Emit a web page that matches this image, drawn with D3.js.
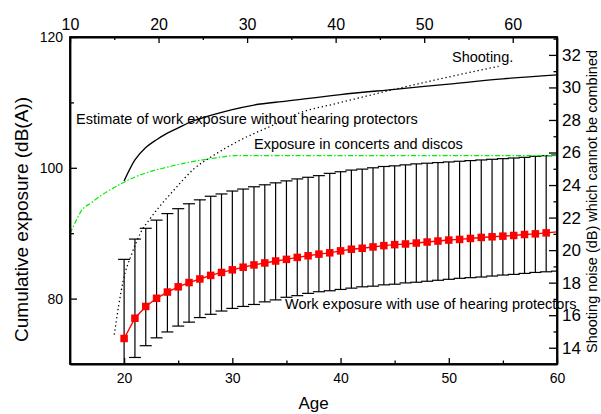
<!DOCTYPE html>
<html>
<head>
<meta charset="utf-8">
<script src="https://cdn.jsdelivr.net/npm/d3@7/dist/d3.min.js"></script>
<style>
  html, body { margin: 0; padding: 0; background: #fff; }
  svg { display: block; font-family: "Liberation Sans", Arial, sans-serif; }
</style>
</head>
<body>
<svg id="chart" width="601" height="414"></svg>
<script>
// Work exposure with hearing protectors: mean and spread per age
const ages = [20,21,22,23,24,25,26,27,28,29,30,31,32,33,34,35,36,37,38,39,40,
              41,42,43,44,45,46,47,48,49,50,51,52,53,54,55,56,57,58,59,60];
const protectedMean = [73.9,77.0,78.8,80.05,81.0,81.8,82.45,83.0,83.55,84.0,84.4,
              84.8,85.15,85.45,85.75,86.0,86.3,86.55,86.8,87.0,87.3,
              87.55,87.7,87.9,88.1,88.25,88.35,88.5,88.65,88.8,88.95,
              89.05,89.2,89.35,89.45,89.55,89.65,89.8,89.9,90.05,90.2];
const protectedUpper = [86.0,89.1,90.75,92.0,93.0,93.75,94.5,95.1,95.65,96.0,96.45,
              96.75,97.1,97.4,97.7,98.0,98.3,98.55,98.8,99.15,99.4,
              99.65,99.8,100.0,100.2,100.3,100.45,100.6,100.7,100.8,100.9,
              101.0,101.1,101.2,101.3,101.4,101.5,101.6,101.75,101.85,101.95];
const protectedLower = [68.0,71.0,72.8,74.0,74.9,75.8,76.4,77.1,77.6,78.1,78.5,
              78.8,79.1,79.5,79.8,80.2,80.45,80.8,81.05,81.2,81.4,
              81.6,81.8,81.9,82.1,82.2,82.4,82.5,82.65,82.8,82.95,
              83.1,83.2,83.3,83.45,83.6,83.7,83.85,84.0,84.1,84.2];

// Estimated work exposure without hearing protectors
const unprotectedAge = [20,21,22,23,24,25,26,28,30,32,35,40,45,50,55,60];
const unprotectedVal = [98.0,101.2,103.1,104.3,105.3,106.1,106.9,108.0,108.9,109.6,110.2,111.2,112.0,112.8,113.6,114.2];

// Exposure in concerts and discos
const concertAge = [15,15.5,16,17,18,19,20,21,22,23,24,25,26,27,28,29,30,40,50,60];
const concertVal = [90.0,91.7,93.3,94.7,95.9,96.9,97.8,98.6,99.2,99.7,100.1,100.5,100.85,101.15,101.4,101.65,101.85,101.85,101.85,101.85];

// Shooting noise (top and right scales)
const shootX = [15,15.5,16,17,18,19,20,22,24,26,29,33,36,40,46,52,58.4];
const shootY = [14.8,16.6,18.1,19.8,21.1,21.9,22.6,23.85,25.0,25.75,26.7,27.7,28.45,29.0,29.8,30.55,31.3];

// Tick values
const bottomTicks = [20,30,40,50,60];
const bottomMinor = [25,35,45,55];
const topTicks = [10,20,30,40,50,60];
const topMinor = [15,25,35,45,55];
const leftTicks = [80,100,120];
const leftMinor = [90,110];
const rightTicks = [14,16,18,20,22,24,26,28,30,32];
const rightMinor = [15,17,19,21,23,25,27,29,31,33];

const svg = d3.select("#chart");
const L = 70, R = 557, T = 37, B = 364;

const x = d3.scaleLinear().domain([15, 60]).range([L, R]);
const xTop = d3.scaleLinear().domain([10, 65]).range([L, R]);
const y = d3.scaleLinear().domain([70, 120]).range([B, T]);
const yR = d3.scaleLinear().domain([13, 33.1]).range([B, T]);

svg.append("defs").append("clipPath").attr("id", "plotClip")
  .append("rect").attr("x", L).attr("y", T).attr("width", R - L).attr("height", B - T);

const plot = svg.append("g").attr("clip-path", "url(#plotClip)");

const rows = ages.map((a, i) => ({age: a, mean: protectedMean[i], hi: protectedUpper[i], lo: protectedLower[i]}));

// Error bars
const bars = plot.append("g").attr("stroke", "#000").attr("stroke-width", 1.2);
bars.selectAll("line.v").data(rows).join("line").attr("class", "v")
  .attr("x1", d => x(d.age)).attr("x2", d => x(d.age))
  .attr("y1", d => y(d.hi)).attr("y2", d => y(d.lo));
bars.selectAll("line.hi").data(rows).join("line").attr("class", "hi")
  .attr("x1", d => x(d.age) - 6).attr("x2", d => x(d.age) + 6)
  .attr("y1", d => y(d.hi)).attr("y2", d => y(d.hi));
bars.selectAll("line.lo").data(rows).join("line").attr("class", "lo")
  .attr("x1", d => x(d.age) - 6).attr("x2", d => x(d.age) + 6)
  .attr("y1", d => y(d.lo)).attr("y2", d => y(d.lo));

// Mean line with square markers
plot.append("path").datum(rows)
  .attr("fill", "none").attr("stroke", "#ff0000").attr("stroke-width", 1.4)
  .attr("d", d3.line().x(d => x(d.age)).y(d => y(d.mean)));
const sq = 7.5;
plot.append("g").selectAll("rect").data(rows.filter(d => d.age < 60)).join("rect")
  .attr("x", d => x(d.age) - sq / 2).attr("y", d => y(d.mean) - sq / 2)
  .attr("width", sq).attr("height", sq).attr("fill", "#ff0000");

// Unprotected estimate
plot.append("path").datum(unprotectedAge.map((a, i) => [a, unprotectedVal[i]]))
  .attr("fill", "none").attr("stroke", "#000").attr("stroke-width", 1.3)
  .attr("d", d3.line().curve(d3.curveMonotoneX).x(d => x(d[0])).y(d => y(d[1])));

// Concerts and discos
plot.append("path").datum(concertAge.map((a, i) => [a, concertVal[i]]))
  .attr("fill", "none").attr("stroke", "#00ee00").attr("stroke-width", 1.2)
  .attr("stroke-dasharray", "5,2,1.5,2")
  .attr("d", d3.line().curve(d3.curveMonotoneX).x(d => x(d[0])).y(d => y(d[1])));

// Shooting
plot.append("path").datum(shootX.map((a, i) => [a, shootY[i]]))
  .attr("fill", "none").attr("stroke", "#000").attr("stroke-width", 1.3)
  .attr("stroke-dasharray", "1.3,2.8")
  .attr("d", d3.line().curve(d3.curveMonotoneX).x(d => xTop(d[0])).y(d => yR(d[1])));

// Axes
function styleAxis(g, size) {
  g.selectAll(".domain").attr("stroke", "#000").attr("stroke-width", 1.8);
  g.selectAll(".tick line").attr("stroke", "#000").attr("stroke-width", 1.3);
  g.selectAll("text").attr("fill", "#000").attr("font-size", size)
    .attr("font-family", "'Liberation Sans', Arial, sans-serif");
}

const gB = svg.append("g").attr("transform", `translate(0,${B})`)
  .call(d3.axisBottom(x).tickValues(bottomTicks).tickFormat(d3.format("d")).tickSizeInner(-6).tickSizeOuter(0).tickPadding(9));
styleAxis(gB, 14);
svg.append("g").attr("transform", `translate(0,${B})`)
  .call(d3.axisBottom(x).tickValues(bottomMinor).tickFormat("").tickSizeInner(-3.5).tickSizeOuter(0))
  .call(g => { g.select(".domain").remove(); g.selectAll("line").attr("stroke", "#000").attr("stroke-width", 1.3); });

const gT = svg.append("g").attr("transform", `translate(0,${T})`)
  .call(d3.axisTop(xTop).tickValues(topTicks).tickFormat(d3.format("d")).tickSizeInner(-6).tickSizeOuter(0).tickPadding(7));
styleAxis(gT, 16);
svg.append("g").attr("transform", `translate(0,${T})`)
  .call(d3.axisTop(xTop).tickValues(topMinor).tickFormat("").tickSizeInner(-3).tickSizeOuter(0))
  .call(g => { g.select(".domain").remove(); g.selectAll("line").attr("stroke", "#000").attr("stroke-width", 1.3); });

const gL = svg.append("g").attr("transform", `translate(${L},0)`)
  .call(d3.axisLeft(y).tickValues(leftTicks).tickFormat(d3.format("d")).tickSizeInner(-7).tickSizeOuter(0).tickPadding(7));
styleAxis(gL, 14);
svg.append("g").attr("transform", `translate(${L},0)`)
  .call(d3.axisLeft(y).tickValues(leftMinor).tickFormat("").tickSizeInner(-4).tickSizeOuter(0))
  .call(g => { g.select(".domain").remove(); g.selectAll("line").attr("stroke", "#000").attr("stroke-width", 1.3); });

const gR = svg.append("g").attr("transform", `translate(${R},0)`)
  .call(d3.axisRight(yR).tickValues(rightTicks).tickFormat(d3.format("d")).tickSizeInner(-8).tickSizeOuter(0).tickPadding(5));
styleAxis(gR, 17);
svg.append("g").attr("transform", `translate(${R},0)`)
  .call(d3.axisRight(yR).tickValues(rightMinor).tickFormat("").tickSizeInner(-3.5).tickSizeOuter(0))
  .call(g => { g.select(".domain").remove(); g.selectAll("line").attr("stroke", "#000").attr("stroke-width", 1.3); });

// Full frame lines
svg.append("rect").attr("x", L).attr("y", T).attr("width", R - L).attr("height", B - T)
  .attr("fill", "none").attr("stroke", "#000").attr("stroke-width", 1.8);

// Axis titles
svg.append("text").attr("transform", `translate(28,${(T + B) / 2 + 19}) rotate(-90)`)
  .attr("text-anchor", "middle").attr("font-size", 19).text("Cumulative exposure (dB(A))");
svg.append("text").attr("x", (L + R) / 2).attr("y", 409)
  .attr("text-anchor", "middle").attr("font-size", 17).text("Age");
svg.append("text").attr("transform", `translate(597,${(T + B) / 2 + 1}) rotate(-90)`)
  .attr("text-anchor", "middle").attr("font-size", 14.5).text("Shooting noise (dB) which cannot be combined");

// Series annotations
const notes = svg.append("g").attr("font-size", 14.5).attr("fill", "#000");
notes.append("text").attr("x", 452).attr("y", 62).text("Shooting.");
notes.append("text").attr("x", 76).attr("y", 124).text("Estimate of work exposure without hearing protectors");
notes.append("text").attr("x", 254).attr("y", 149).text("Exposure in concerts and discos");
notes.append("text").attr("x", 285).attr("y", 309).text("Work exposure with use of hearing protectors");
</script>
</body>
</html>
